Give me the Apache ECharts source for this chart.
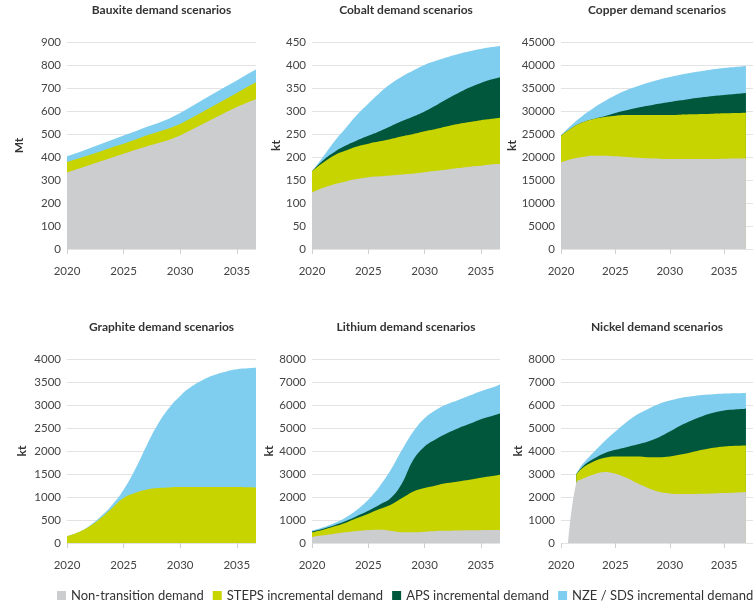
<!DOCTYPE html>
<html>
<head>
<meta charset="utf-8">
<script src="https://cdn.jsdelivr.net/npm/echarts@6/dist/echarts.min.js"></script>
<style>
  html, body { margin: 0; padding: 0; background: #fff; }
  #chart { width: 753px; height: 603px; }
</style>
</head>
<body>
<div id="chart"></div>
<script>
// ---- Data (kt unless noted; Bauxite in Mt) ----
const years = [2020, 2021, 2022, 2023, 2024, 2025, 2026, 2027, 2028, 2029, 2030, 2031, 2032, 2033, 2034, 2035, 2036, 2037];
const yearTicks = [2020, 2025, 2030, 2035];

const seriesNames = ['Non-transition demand', 'STEPS incremental demand', 'APS incremental demand', 'NZE / SDS incremental demand'];

// Bauxite
const bauxiteNonTransition = [333, 349, 365, 381, 398, 414, 430, 446, 460, 474, 493, 518, 543, 568, 593, 617, 638, 657];
const bauxiteSteps         = [45, 44, 44, 44, 44, 44, 45, 47, 49, 50, 50, 52, 54, 56, 58, 61, 69, 76];
const bauxiteNze           = [25, 27, 29, 31, 33, 35, 36, 37, 38, 42, 48, 50, 52, 53, 54, 55, 55, 55];

// Cobalt
const cobaltNonTransition = [123, 133, 141, 147, 152, 156, 158, 160, 162, 164, 167, 170, 173, 176, 179, 181, 184, 186];
const cobaltSteps         = [46, 55, 63, 67, 71, 73, 76, 79, 83, 86, 89, 91, 94, 96, 97, 99, 99, 100];
const cobaltAps           = [0, 5, 7, 11, 13, 17, 22, 28, 33, 38, 43, 51, 59, 67, 75, 81, 86, 89];
const cobaltNze           = [0, 8, 23, 38, 56, 70, 83, 92, 97, 100, 101, 97, 91, 85, 79, 74, 70, 67];

// Copper
const copperNonTransition = [18840, 19560, 20000, 20290, 20290, 20140, 20000, 19850, 19710, 19640, 19560, 19560, 19560, 19560, 19560, 19600, 19650, 19700];
const copperSteps         = [5800, 6740, 7530, 7970, 8410, 8840, 9130, 9280, 9420, 9490, 9570, 9640, 9710, 9780, 9860, 9890, 9910, 9940];
const copperAps           = [0, 0, 0, 0, 150, 580, 1010, 1590, 2030, 2460, 2830, 3120, 3410, 3630, 3840, 3990, 4130, 4270];
const copperNze           = [100, 730, 1450, 2390, 3250, 3840, 4350, 4640, 5000, 5220, 5430, 5580, 5650, 5720, 5800, 5870, 5870, 5870];

// Graphite
const graphiteSteps = [145, 231, 362, 542, 760, 976, 1085, 1157, 1193, 1208, 1215, 1218, 1220, 1220, 1218, 1215, 1210, 1205];
const graphiteNze   = [0, 0, 14, 37, 72, 181, 506, 941, 1375, 1721, 1982, 2182, 2324, 2433, 2507, 2561, 2587, 2607];

// Lithium
const lithiumNonTransition = [260, 333, 405, 463, 521, 564, 579, 535, 470, 463, 492, 521, 530, 540, 550, 555, 560, 565];
const lithiumSteps         = [203, 246, 319, 420, 564, 709, 897, 1129, 1483, 1780, 1896, 1982, 2075, 2137, 2199, 2281, 2348, 2435];
const lithiumAps           = [40, 45, 50, 70, 90, 130, 190, 290, 650, 1375, 1808, 2012, 2170, 2315, 2431, 2547, 2619, 2680];
const lithiumNze           = [32, 56, 94, 161, 272, 478, 794, 1229, 1449, 1229, 1230, 1273, 1259, 1230, 1230, 1215, 1230, 1280];

// Nickel
const nickelYears          = [2020.65, 2021.4, 2022, 2023, 2024, 2025, 2026, 2027, 2028, 2029, 2030, 2031, 2032, 2033, 2034, 2035, 2036, 2037];
const nickelNonTransition  = [0, 2605, 2793, 2981, 3082, 3010, 2836, 2605, 2388, 2228, 2156, 2127, 2127, 2142, 2156, 2171, 2185, 2214];
const nickelSteps          = [null, 376, 477, 564, 622, 752, 926, 1157, 1345, 1505, 1606, 1722, 1823, 1910, 1982, 2025, 2040, 2026];
const nickelAps            = [null, 0, 58, 116, 203, 290, 405, 521, 680, 869, 1085, 1259, 1375, 1461, 1520, 1563, 1577, 1592];
const nickelNze            = [null, 29, 116, 289, 521, 795, 1086, 1302, 1418, 1446, 1346, 1201, 1056, 926, 810, 738, 709, 694];

// ---- Styling and layout ----
const colors = ['#cbcdcf', '#c8d400', '#00573b', '#7fcdef'];
const FONT = 'Lato';

const panels = [
  { title: 'Bauxite demand scenarios',  unit: 'Mt', left: 67,  top: 42,  width: 189, height: 207, xMax: 2036.7,  yMax: 900,   yStep: 100,  nameGap: 42, smooth: false,
    xs: years, layers: [bauxiteNonTransition, bauxiteSteps, null, bauxiteNze] },
  { title: 'Cobalt demand scenarios',   unit: 'kt', left: 312, top: 42,  width: 188, height: 207, xMax: 2036.7,  yMax: 450,   yStep: 50,   nameGap: 29, smooth: 0.5,
    xs: years, layers: [cobaltNonTransition, cobaltSteps, cobaltAps, cobaltNze] },
  { title: 'Copper demand scenarios',   unit: 'kt', left: 561, top: 42,  width: 200, height: 207, xMax: 2037.65, yMax: 45000, yStep: 5000, nameGap: 42, smooth: 0.5,
    xs: years, layers: [copperNonTransition, copperSteps, copperAps, copperNze] },
  { title: 'Graphite demand scenarios', unit: 'kt', left: 67,  top: 359, width: 189, height: 184, xMax: 2036.7,  yMax: 4000,  yStep: 500,  nameGap: 39, smooth: 0.5,
    xs: years, layers: [null, graphiteSteps, null, graphiteNze] },
  { title: 'Lithium demand scenarios',  unit: 'kt', left: 312, top: 359, width: 188, height: 184, xMax: 2036.7,  yMax: 8000,  yStep: 1000, nameGap: 34, smooth: 0.4,
    xs: years, layers: [lithiumNonTransition, lithiumSteps, lithiumAps, lithiumNze] },
  { title: 'Nickel demand scenarios',   unit: 'kt', left: 561, top: 359, width: 200, height: 184, xMax: 2037.65, yMax: 8000,  yStep: 1000, nameGap: 33, smooth: 0.4,
    xs: nickelYears, layers: [nickelNonTransition, nickelSteps, nickelAps, nickelNze] }
];

// Running totals of the layers, so each band fills from zero up to its cumulative top
// and the lower bands are painted over the upper ones.
function cumulativeLayers(layers, n) {
  const run = new Array(n).fill(0);
  return layers.map(vals => {
    if (!vals) return null;
    return vals.map((v, j) => {
      if (v == null) return null;
      run[j] += v;
      return run[j];
    });
  });
}

const plainNumber = v => String(v);

const option = {
  backgroundColor: '#ffffff',
  animation: false,
  textStyle: { fontFamily: FONT },
  title: [],
  grid: [],
  xAxis: [],
  yAxis: [],
  series: [],
  legend: {
    left: 57,
    top: 589,
    width: 740,
    icon: 'rect',
    itemWidth: 9,
    itemHeight: 9,
    itemGap: 9,
    padding: 0,
    selectedMode: false,
    textStyle: { fontFamily: FONT, fontSize: 13, color: '#333' },
    data: seriesNames.map((n, i) => ({ name: n, itemStyle: { color: colors[i] } }))
  }
};

panels.forEach((p, i) => {
  option.title.push({
    text: p.title,
    left: p.left + Math.min(p.width, 753 - p.left) / 2,
    top: p.top < 100 ? 4 : 321,
    textAlign: 'center',
    padding: 0,
    textStyle: { fontFamily: FONT, fontSize: 12, fontWeight: 'bold', color: '#333' }
  });
  option.grid.push({ left: p.left, top: p.top, width: p.width, height: p.height, containLabel: false });
  option.xAxis.push({
    type: 'value',
    gridIndex: i,
    min: 2020,
    max: p.xMax,
    interval: 5,
    axisLine: { show: false },
    axisTick: { show: true, length: 5, customValues: yearTicks, lineStyle: { color: '#d0d0d0' } },
    axisLabel: { customValues: yearTicks, formatter: plainNumber, margin: 16, fontFamily: FONT, fontSize: 11.5, color: '#444' },
    splitLine: { show: false }
  });
  option.yAxis.push({
    type: 'value',
    gridIndex: i,
    min: 0,
    max: p.yMax,
    interval: p.yStep,
    name: p.unit,
    nameLocation: 'middle',
    nameGap: p.nameGap,
    nameTextStyle: { fontFamily: FONT, fontSize: 12, fontWeight: 'bold', color: '#333' },
    axisLine: { show: false },
    axisTick: { show: false },
    axisLabel: { formatter: plainNumber, margin: 6, fontFamily: FONT, fontSize: 11.5, color: '#444' },
    splitLine: { show: true, lineStyle: { color: '#e3e3e3', width: 1 } }
  });
  const totals = cumulativeLayers(p.layers, p.xs.length);
  totals.forEach((vals, k) => {
    if (!vals) return;
    option.series.push({
      type: 'line',
      name: seriesNames[k],
      xAxisIndex: i,
      yAxisIndex: i,
      smooth: p.smooth,
      symbol: 'none',
      color: colors[k],
      lineStyle: { width: 0 },
      areaStyle: { color: colors[k], opacity: 1, origin: 'start' },
      data: p.xs.map((x, j) => [x, vals[j] == null ? '-' : vals[j]]),
      z: 10 - k
    });
  });
});

const chart = echarts.init(document.getElementById('chart'), null, { renderer: 'canvas' });
chart.setOption(option);
</script>
</body>
</html>
